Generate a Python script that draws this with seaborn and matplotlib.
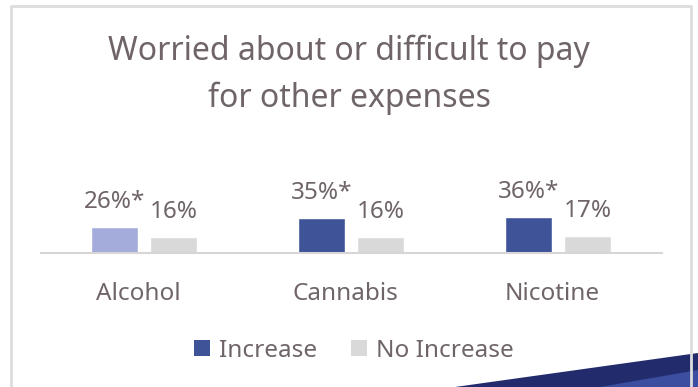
import matplotlib
matplotlib.use("Agg")
import matplotlib.pyplot as plt
import matplotlib.patches as mpatches
from matplotlib.lines import Line2D
import matplotlib.transforms as mtransforms
import seaborn as sns
import pandas as pd

# Share of respondents worried about / finding it difficult to pay for other expenses
substances = ["Alcohol", "Cannabis", "Nicotine"]
increase = [26, 35, 36]
no_increase = [16, 16, 17]
significant = [True, True, True]
groups = ["Increase", "No Increase"]

TEXT = "#6F6568"
C_INC = "#3F5398"
C_INC_LIGHT = "#A3ACDA"
C_NO = "#D9D9D9"

sns.set_theme(style="white")
plt.rcParams["font.family"] = ["Noto Sans", "DejaVu Sans"]

df = pd.DataFrame({
    "substance": substances * 2,
    "pct": increase + no_increase,
    "group": [groups[0]] * 3 + [groups[1]] * 3,
})

W, H = 698, 387
fig = plt.figure(figsize=(W / 100, H / 100), dpi=100)
fig.patch.set_facecolor("white")

# outer card border (open at the bottom)
fig.add_artist(Line2D([10.5 / W, 10.5 / W, 690.5 / W, 690.5 / W],
                      [0, 1 - 5.5 / H, 1 - 5.5 / H, 0],
                      transform=fig.transFigure, color="#DDDDDD", lw=2))

# decorative swoosh in the bottom-right corner
fig.add_artist(mpatches.Polygon(
    [(455 / W, 0), (W / W, 1 - 353 / H), (W / W, 0)],
    closed=True, transform=fig.transFigure, color="#222C6C", lw=0))
fig.add_artist(mpatches.Polygon(
    [(600 / W, 0), (W / W, 1 - 370 / H), (W / W, 0)],
    closed=True, transform=fig.transFigure, color="#3C4EA0", lw=0))

ax = fig.add_axes([40.5 / W, 134 / H, 621 / W, 100 / H])
sns.barplot(data=df, x="substance", y="pct", hue="group",
            palette=[C_INC, C_NO], width=0.57, gap=0.22,
            saturation=1, legend=False, ax=ax)
ax.containers[0][0].set_facecolor(C_INC_LIGHT)

ax.set_ylim(0, 100)
ax.set_xlim(-0.5, 2.5)
for s in ["top", "right", "left"]:
    ax.spines[s].set_visible(False)
ax.spines["bottom"].set_color("#D9D4D6")
ax.spines["bottom"].set_linewidth(1.5)
ax.set_yticks([])
ax.set_xlabel("")
ax.set_ylabel("")
ax.tick_params(axis="x", length=0, pad=21, labelsize=17.5, labelcolor=TEXT)
shift = mtransforms.ScaledTranslation(-6 / 100, 0, fig.dpi_scale_trans)
for lbl in ax.get_xticklabels():
    lbl.set_transform(lbl.get_transform() + shift)

# value labels above each bar
for bar, v, sig in zip(ax.containers[0], increase, significant):
    ax.annotate(f"{v}%" + ("*" if sig else ""),
                (bar.get_x() + bar.get_width() / 2, bar.get_height()),
                xytext=(0, 13.7), textcoords="offset points",
                ha="center", va="baseline", fontsize=17.5, color=TEXT)
for bar, v in zip(ax.containers[1], no_increase):
    ax.annotate(f"{v}%",
                (bar.get_x() + bar.get_width() / 2, bar.get_height()),
                xytext=(0, 13.7), textcoords="offset points",
                ha="center", va="baseline", fontsize=17.5, color=TEXT)

# title
fig.text(349 / W, 1 - 60 / H, "Worried about or difficult to pay",
         ha="center", va="baseline", fontsize=23, color=TEXT)
fig.text(349 / W, 1 - 107 / H, "for other expenses",
         ha="center", va="baseline", fontsize=23, color=TEXT)

# legend
handles = [Line2D([], [], marker="s", linestyle="", markersize=11.5,
                  markerfacecolor=c, markeredgewidth=0)
           for c in [C_INC, C_NO]]
fig.legend(handles, groups, loc="center", bbox_to_anchor=(353 / W, 1 - 351 / H),
           ncol=2, frameon=False, fontsize=17.5, labelcolor=TEXT,
           handlelength=0.8, handletextpad=0.3, columnspacing=1.3)

fig.savefig("out.png", dpi=100)
